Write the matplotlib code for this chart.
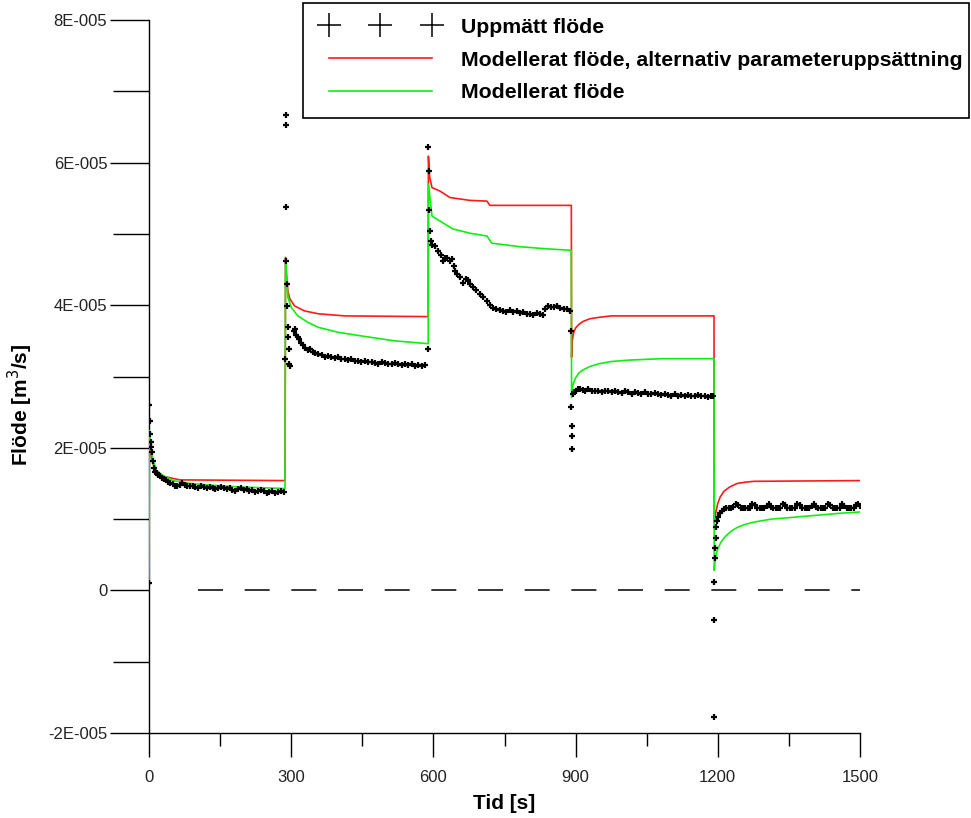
import numpy as np
import matplotlib
matplotlib.use("Agg")
import matplotlib.pyplot as plt
from matplotlib.lines import Line2D
from matplotlib.patches import Rectangle
from matplotlib.ticker import FixedLocator

plt.rcParams['font.family'] = ['Liberation Sans', 'DejaVu Sans']
plt.rcParams['lines.scale_dashes'] = False

SCALE = 1e-5

# ---------------- measured flow (t [s], q [1e-5 m3/s]) ----------------
t_meas_1 = [0, 1, 2, 3, 4, 5, 6, 8, 10, 13, 16, 20, 24, 28, 32, 36, 40, 45, 50, 55, 60, 65, 70, 75,
            80, 86, 92, 98, 104, 110, 116, 122, 128, 134, 140, 146, 152, 158, 164, 170, 176, 182,
            188, 194, 200, 206, 212, 218, 224, 230, 236, 242, 248, 254, 260, 266, 272, 278, 284]
q_meas_1 = [0.10, 2.60, 2.38, 2.19, 2.08, 2.01, 1.94, 1.82, 1.71, 1.66, 1.64, 1.62, 1.60, 1.58, 1.56,
            1.55, 1.52, 1.51, 1.49, 1.47, 1.46, 1.48, 1.50, 1.48, 1.47, 1.46, 1.47, 1.45, 1.44, 1.46,
            1.45, 1.43, 1.45, 1.44, 1.42, 1.44, 1.45, 1.43, 1.42, 1.44, 1.41, 1.40, 1.42, 1.43, 1.41,
            1.42, 1.40, 1.41, 1.38, 1.40, 1.41, 1.39, 1.37, 1.38, 1.40, 1.37, 1.38, 1.39, 1.38]

t_meas_2 = [286, 288, 288.5, 289, 290, 291, 292, 293, 294, 295, 296, 297, 305, 308, 311, 314, 317,
            321, 325, 330, 335, 340, 345, 350, 357, 364, 371, 378, 385, 392, 399, 406, 413, 420,
            427, 434, 441, 448, 456, 463, 470, 477, 484, 491, 498, 505, 512, 519, 526, 533, 540,
            547, 554, 561, 568, 575, 582, 588]
q_meas_2 = [3.25, 6.67, 6.53, 5.38, 4.62, 4.30, 3.99, 3.69, 3.55, 3.39, 3.18, 3.15, 3.64, 3.66, 3.58,
            3.55, 3.52, 3.47, 3.44, 3.40, 3.37, 3.38, 3.34, 3.33, 3.31, 3.30, 3.28, 3.29, 3.27, 3.26,
            3.27, 3.25, 3.25, 3.23, 3.24, 3.22, 3.22, 3.21, 3.22, 3.20, 3.21, 3.19, 3.18, 3.20, 3.19,
            3.18, 3.17, 3.19, 3.18, 3.16, 3.18, 3.16, 3.17, 3.15, 3.16, 3.15, 3.16, 3.39]

t_meas_3 = [589, 590, 590.5, 592, 595, 598, 603, 610, 615, 620, 624, 629, 634, 639, 643, 646, 650,
            656, 662, 668, 673, 678, 684, 690, 698, 705, 713, 720, 726, 733, 740, 747, 754, 761,
            768, 776, 783, 790, 797, 804, 811, 818, 825, 831, 836, 842, 848, 855, 861, 868, 875,
            882, 888]
q_meas_3 = [6.22, 5.88, 5.34, 5.04, 4.90, 4.85, 4.83, 4.76, 4.70, 4.62, 4.66, 4.66, 4.62, 4.65, 4.55,
            4.48, 4.44, 4.39, 4.31, 4.37, 4.36, 4.30, 4.25, 4.21, 4.16, 4.11, 4.06, 4.00, 3.96, 3.95,
            3.93, 3.92, 3.90, 3.93, 3.91, 3.92, 3.89, 3.90, 3.88, 3.88, 3.86, 3.89, 3.87, 3.86, 3.94,
            3.99, 3.97, 3.98, 3.99, 3.96, 3.95, 3.95, 3.92]

t_meas_4 = [890, 891, 892, 892.5, 893, 894, 896, 900, 905, 910, 915, 920, 927, 934, 941, 948, 955,
            962, 969, 976, 983, 990, 997, 1004, 1011, 1018, 1025, 1032, 1039, 1046, 1053, 1060,
            1067, 1074, 1081, 1088, 1095, 1102, 1109, 1116, 1123, 1130, 1137, 1144, 1151, 1158,
            1165, 1172, 1179, 1186, 1190]
q_meas_4 = [3.64, 2.57, 2.30, 2.16, 1.99, 2.76, 2.78, 2.80, 2.82, 2.83, 2.81, 2.80, 2.82, 2.79, 2.79,
            2.80, 2.78, 2.80, 2.79, 2.78, 2.80, 2.78, 2.77, 2.79, 2.78, 2.76, 2.78, 2.77, 2.76, 2.78,
            2.76, 2.75, 2.77, 2.75, 2.74, 2.76, 2.74, 2.73, 2.75, 2.73, 2.74, 2.72, 2.74, 2.73, 2.72,
            2.74, 2.72, 2.73, 2.71, 2.73, 2.72]

t_meas_5 = [1192, 1192.5, 1193, 1194, 1195, 1196, 1197, 1198, 1200, 1204, 1208, 1213, 1218, 1223,
            1228, 1233, 1238, 1243, 1248, 1253, 1258, 1263, 1268, 1273, 1278, 1283, 1288, 1293,
            1298, 1303, 1307, 1312, 1317, 1322, 1327, 1332, 1337, 1342, 1347, 1352, 1357, 1362,
            1368, 1373, 1378, 1383, 1388, 1393, 1398, 1402, 1407, 1412, 1417, 1422, 1427, 1432,
            1437, 1442, 1447, 1452, 1457, 1462, 1467, 1472, 1477, 1482, 1487, 1492, 1496, 1500]
q_meas_5 = [-1.77, -0.41, 0.12, 0.45, 0.59, 0.73, 0.89, 0.98, 1.03, 1.08, 1.11, 1.14, 1.15, 1.15,
            1.16, 1.17, 1.21, 1.20, 1.16, 1.15, 1.15, 1.15, 1.16, 1.21, 1.20, 1.16, 1.15, 1.15,
            1.16, 1.19, 1.21, 1.17, 1.15, 1.15, 1.15, 1.16, 1.21, 1.20, 1.16, 1.15, 1.15, 1.15,
            1.21, 1.20, 1.16, 1.15, 1.15, 1.15, 1.19, 1.21, 1.17, 1.15, 1.15, 1.15, 1.16, 1.21,
            1.20, 1.16, 1.15, 1.15, 1.16, 1.21, 1.19, 1.16, 1.15, 1.15, 1.16, 1.20, 1.21, 1.18]

# ---------------- modelled flow, alternative parameter set (red) ----------------
t_red = [0, 0.5, 3, 8, 15, 30, 65, 287,
         288, 290, 293, 297, 307, 328, 357, 413, 589,
         589.5, 592, 597, 614, 635, 677, 713, 719, 891,
         891.5, 893, 896, 900, 907, 915, 930, 950, 975, 1192,
         1192.5, 1194, 1196, 1200, 1205, 1213, 1225, 1241, 1260, 1277, 1500]
q_red = [0.10, 2.10, 1.95, 1.78, 1.68, 1.60, 1.55, 1.54,
         4.67, 4.44, 4.20, 4.09, 3.99, 3.92, 3.88, 3.85, 3.84,
         6.09, 5.80, 5.65, 5.60, 5.51, 5.47, 5.46, 5.40, 5.40,
         3.27, 3.50, 3.62, 3.68, 3.73, 3.77, 3.81, 3.83, 3.85, 3.85,
         0.95, 1.02, 1.10, 1.22, 1.31, 1.39, 1.45, 1.50, 1.52, 1.53, 1.54]

# ---------------- modelled flow (green) ----------------
t_green = [0, 1, 4, 9, 16, 30, 51, 87, 122, 192, 283, 287,
           288, 290, 293, 300, 314, 335, 357, 399, 447, 518, 589,
           589.5, 597, 614, 641, 677, 713, 723, 783, 840, 891,
           891.5, 893, 896, 900, 907, 915, 930, 950, 975, 1013, 1082, 1192,
           1192.5, 1194, 1197, 1201, 1207, 1215, 1228, 1243, 1260, 1278, 1313, 1350, 1384,
           1420, 1454, 1500]
q_green = [0.10, 2.24, 2.00, 1.82, 1.68, 1.61, 1.54, 1.50, 1.48, 1.45, 1.43, 1.43,
           4.62, 4.44, 4.11, 3.97, 3.85, 3.76, 3.69, 3.62, 3.57, 3.50, 3.46,
           5.70, 5.25, 5.18, 5.07, 5.01, 4.97, 4.87, 4.82, 4.79, 4.77,
           2.71, 2.83, 2.92, 2.98, 3.05, 3.09, 3.14, 3.18, 3.21, 3.23, 3.25, 3.25,
           0.28, 0.40, 0.52, 0.60, 0.68, 0.75, 0.83, 0.89, 0.93, 0.96, 1.00, 1.02, 1.04,
           1.06, 1.08, 1.10]

y_ticks = [-2e-5, 0, 2e-5, 4e-5, 6e-5, 8e-5]
y_tick_labels = ['-2E-005', '0', '2E-005', '4E-005', '6E-005', '8E-005']
y_minor = [-1e-5, 1e-5, 3e-5, 5e-5, 7e-5]
x_ticks = [0, 300, 600, 900, 1200, 1500]
x_minor = [150, 450, 750, 1050, 1350]

labels = ['Uppmätt flöde', 'Modellerat flöde, alternativ parameteruppsättning', 'Modellerat flöde']

# ---------------- figure ----------------
W, H = 971, 818
fig = plt.figure(figsize=(W / 100, H / 100), dpi=100)
ax = fig.add_axes([149 / W, 1 - 733 / H, (860 - 149) / W, (733 - 20) / H])

t_meas = np.concatenate([t_meas_1, t_meas_2, t_meas_3, t_meas_4, t_meas_5])
q_meas = np.concatenate([q_meas_1, q_meas_2, q_meas_3, q_meas_4, q_meas_5]) * SCALE

ax.plot([104, 1500], [0, 0], color='black', lw=1.1, dashes=(18, 15.6), zorder=1)
ax.plot(t_red, np.array(q_red) * SCALE, color='#ff1a1a', lw=1.2, zorder=2)
ax.plot(t_green, np.array(q_green) * SCALE, color='#11ee11', lw=1.2, zorder=3)
ax.plot(t_meas, q_meas, ls='none', marker='+', ms=4, mew=1.6, color='black', zorder=4)

ax.set_xlim(0, 1500)
ax.set_ylim(-2e-5, 8e-5)
ax.set_yticks(y_ticks)
ax.set_yticklabels(y_tick_labels)
ax.yaxis.set_minor_locator(FixedLocator(y_minor))
ax.set_xticks(x_ticks)
ax.set_xticklabels([str(v) for v in x_ticks])
ax.xaxis.set_minor_locator(FixedLocator(x_minor))

for s in ['top', 'right']:
    ax.spines[s].set_visible(False)
for s in ['left', 'bottom']:
    ax.spines[s].set_linewidth(1.0)
    ax.spines[s].set_color('black')

ax.tick_params(axis='y', which='major', direction='out', length=28, width=1.0, pad=2,
               labelsize=12, labelcolor='#222222')
ax.tick_params(axis='y', which='minor', direction='out', length=26, width=1.0)
ax.tick_params(axis='x', which='major', direction='out', length=17, width=1.0, pad=10,
               labelsize=12, labelcolor='#222222')
ax.tick_params(axis='x', which='minor', direction='out', length=9, width=1.0)

ax.set_xlabel('Tid [s]', fontsize=15, fontweight='bold', labelpad=6)
fig.text(20 / W, 1 - 405 / H, 'Flöde [m$^3$/s]', rotation=90, fontsize=15, fontweight='bold',
         ha='center', va='center')

# legend entries (frame drawn separately as a box)
handles = [Line2D([], [], ls='none', marker='+', ms=17, mew=1.1, color='black'),
           Line2D([], [], color='#ff1a1a', lw=1.2),
           Line2D([], [], color='#11ee11', lw=1.2)]
leg = fig.legend(handles, labels, loc='upper right', bbox_to_anchor=(977 / W, 1 - 3 / H),
                 bbox_transform=fig.transFigure, numpoints=3, handlelength=5.45, handletextpad=1.05,
                 borderpad=0.7, labelspacing=0.65, borderaxespad=0, frameon=False,
                 prop={'size': 15.3, 'weight': 'bold'})
fig.add_artist(Rectangle((303 / W, 1 - 118 / H), (969 - 303) / W, 115 / H,
                         transform=fig.transFigure, fill=False, edgecolor='black', linewidth=1.2))

fig.savefig('out.png', dpi=100)
